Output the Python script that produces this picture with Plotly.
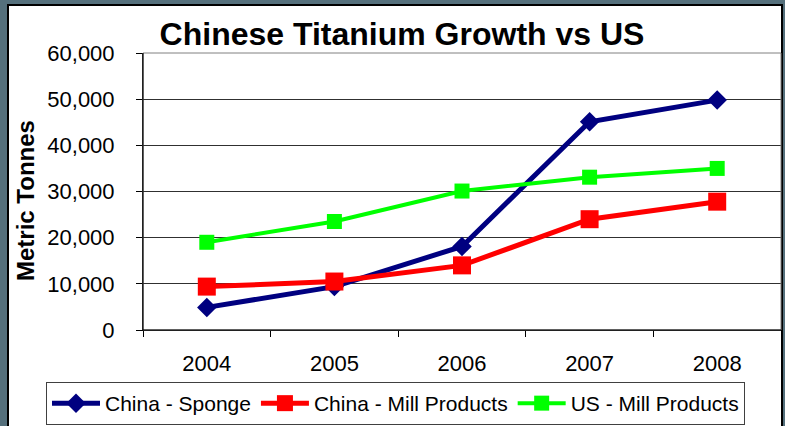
import plotly.graph_objects as go

years = ["2004", "2005", "2006", "2007", "2008"]
china_sponge = [4900, 9400, 18100, 45100, 49800]
china_mill = [9400, 10500, 14000, 24000, 27800]
us_mill = [19000, 23500, 30100, 33100, 35000]

FONT = "Liberation Sans, Arial, sans-serif"
W, H = 785, 426
L, R, T, B = 143, 4, 53, 96
PW, PH = W - L - R, H - T - B


def px_x(px):
    return (px - L) / PW


def px_y(py):
    return (H - B - py) / PH


fig = go.Figure()
fig.add_trace(go.Scatter(
    x=years, y=china_sponge, name="China - Sponge", mode="lines+markers",
    line=dict(color="#000080", width=5),
    marker=dict(symbol="diamond", size=15, color="#000080"),
))
fig.add_trace(go.Scatter(
    x=years, y=china_mill, name="China - Mill Products", mode="lines+markers",
    line=dict(color="#FF0000", width=5),
    marker=dict(symbol="square", size=18, color="#FF0000"),
))
fig.add_trace(go.Scatter(
    x=years, y=us_mill, name="US - Mill Products", mode="lines+markers",
    line=dict(color="#00FF00", width=4),
    marker=dict(symbol="square", size=15, color="#00FF00"),
))

fig.update_layout(
    width=W, height=H,
    margin=dict(l=L, r=R, t=T, b=B, autoexpand=False),
    paper_bgcolor="#55707c",
    plot_bgcolor="white",
    font=dict(family=FONT, color="black", size=22),
    title=dict(
        text="<b>Chinese Titanium Growth vs US</b>",
        font=dict(family=FONT, size=32, color="black"),
        x=402 / W, xanchor="center", xref="container",
        y=1 - 34 / H, yanchor="middle", yref="container",
    ),
    showlegend=True,
    legend=dict(
        orientation="h",
        xref="paper", yref="paper",
        x=px_x(46), xanchor="left",
        y=px_y(382), yanchor="top",
        bgcolor="white", bordercolor="#404040", borderwidth=1,
        font=dict(family=FONT, size=21, color="black"),
        itemwidth=48,
        tracegroupgap=0,
    ),
    xaxis=dict(
        type="category",
        range=[-0.5, 4.5],
        showgrid=False,
        showline=True, linecolor="black", linewidth=1,
        ticks="outside", tickson="boundaries", ticklen=6, tickcolor="black",
        tickfont=dict(family=FONT, size=22, color="black"),
        ticklabelstandoff=14,
        fixedrange=True,
    ),
    yaxis=dict(
        range=[0, 60000], dtick=10000, tickformat=",d",
        showgrid=True, gridcolor="#303030", gridwidth=1,
        zeroline=False,
        showline=True, linecolor="black", linewidth=1,
        ticks="outside", ticklen=6, tickcolor="black",
        tickfont=dict(family=FONT, size=22, color="black"),
        ticklabelstandoff=17,
        fixedrange=True,
    ),
    annotations=[
        dict(text="<b>Metric Tonnes</b>", textangle=-90,
             xref="paper", yref="paper", x=px_x(25), y=px_y(201),
             xanchor="center", yanchor="middle", showarrow=False,
             font=dict(family=FONT, size=24, color="black")),
    ],
    shapes=[
        dict(type="rect", xref="paper", yref="paper", layer="below",
             x0=px_x(8), x1=px_x(782), y0=px_y(H + 10), y1=px_y(5),
             fillcolor="white", line=dict(color="black", width=2)),
        dict(type="rect", xref="paper", yref="paper", layer="above",
             x0=0, x1=1, y0=0, y1=1,
             fillcolor="rgba(0,0,0,0)", line=dict(color="#808080", width=1)),
        dict(type="line", xref="paper", yref="paper", layer="above",
             x0=0, x1=0, y0=0, y1=1, line=dict(color="black", width=1)),
        dict(type="line", xref="paper", yref="paper", layer="above",
             x0=0, x1=1, y0=0, y1=0, line=dict(color="black", width=1)),
    ],
)

fig.write_html("out.html")
